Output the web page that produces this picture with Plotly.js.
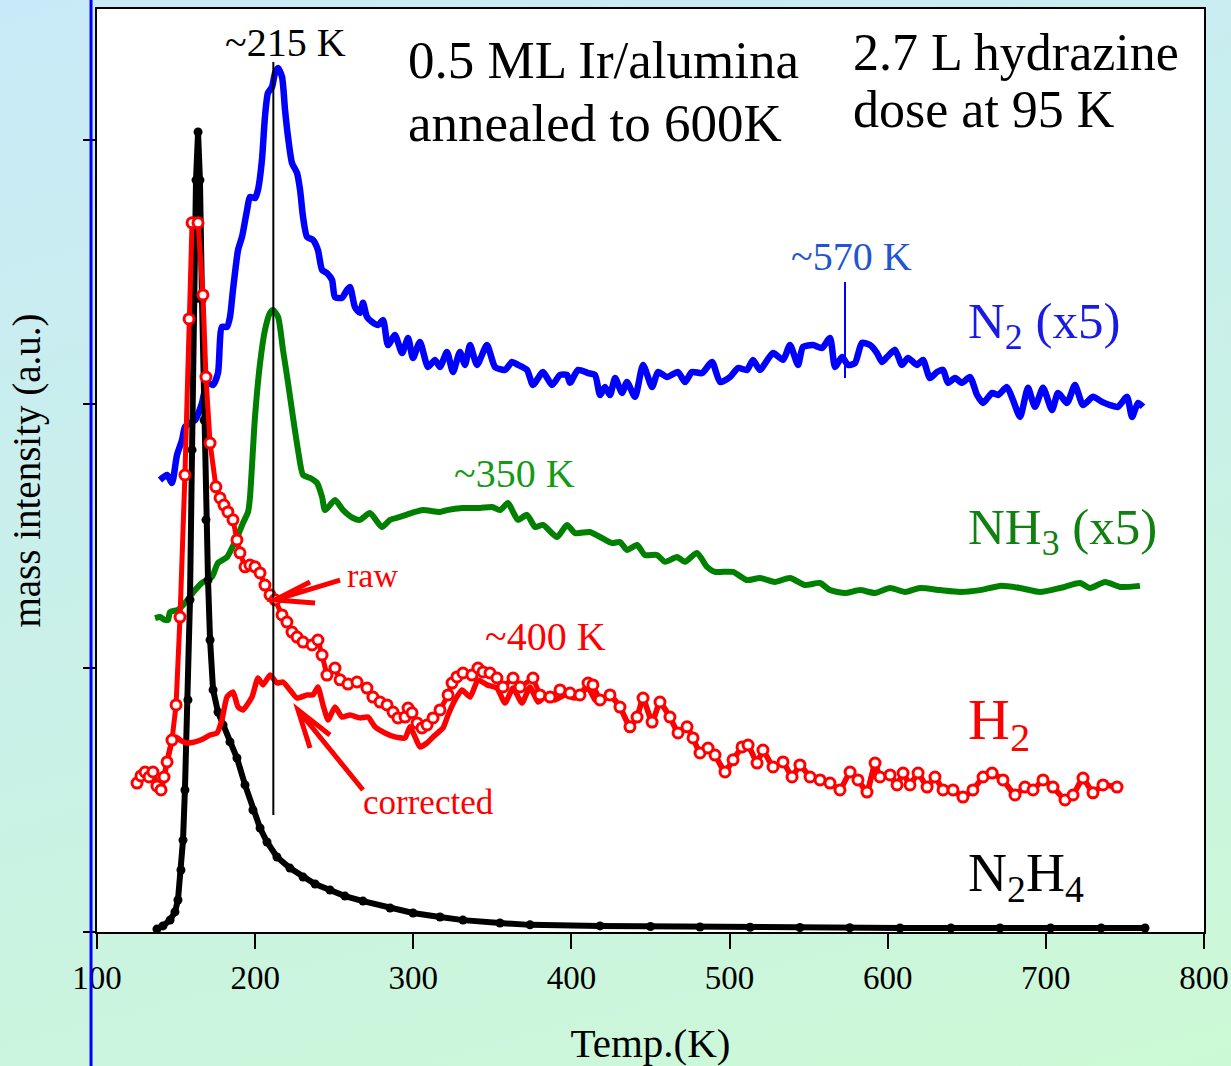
<!DOCTYPE html>
<html>
<head>
<meta charset="utf-8">
<script src="https://cdn.plot.ly/plotly-3.0.1.min.js"></script>
<style>
  html, body { margin: 0; padding: 0; }
  body {
    width: 1231px; height: 1066px; overflow: hidden;
    background: linear-gradient(165deg, #c8eaf8 0%, #caf1e6 55%, #ccf9d5 100%);
  }
  #chart { width: 1231px; height: 1066px; }
</style>
</head>
<body>
<div id="chart"></div>
<script>
// Hydrazine TPD on 0.5 ML Ir/alumina: mass-spectrometer signals vs temperature (K)

// N2H4 (parent), arbitrary units
const n2h4Temp = [137.9,141.7,146.2,149.3,151.2,153.1,154.4,155.6,157.5,158.8,160.1,161.3,162.6,163.9,165.1,166.4,167.7,168.9,170.2,171.5,173.4,176.5,179.7,184.1,188.5,193.6,198.6,203.1,207.5,213.8,222.0,230.3,237.9,247.3,256.8,268.2,285.3,299.8,316.9,331.4,354.8,373.8,418.1,450.0,481.3,513.0,544.5,576.0,607.8,640.0,671.0,703.0,735.0,762.7];
const n2h4Signal = [0.011,0.023,0.045,0.076,0.121,0.235,0.348,0.538,0.879,1.258,1.826,2.394,2.848,3.030,2.848,2.394,1.939,1.561,1.333,1.106,0.917,0.833,0.784,0.720,0.659,0.557,0.462,0.394,0.341,0.284,0.242,0.208,0.182,0.159,0.136,0.117,0.091,0.072,0.057,0.045,0.034,0.027,0.023,0.021,0.019,0.018,0.017,0.016,0.015,0.015,0.015,0.015,0.015,0.015];

// N2 (x5)
const n2Temp = [139.8,144.3,147.4,150.6,153.8,155.6,158.8,162.0,166.4,169.6,173.4,176.5,179.0,182.2,184.1,186.0,189.2,191.7,194.9,196.7,199.9,201.8,204.3,206.2,208.1,210.7,212.6,214.5,217.0,218.9,220.8,223.3,226.5,228.4,230.3,232.8,236.6,239.7,242.3,245.4,248.6,250.5,254.9,258.1,260.0,263.1,266.3,268.2,270.7,273.9,277.7,280.9,284.0,288.4,292.9,296.7,299.8,304.2,309.3,313.7,316.9,321.3,325.1,329.5,332.7,335.9,340.3,346.6,351.7,358.0,362.4,366.2,371.9,375.7,382.0,387.7,392.8,397.2,399.1,404.2,410.5,414.9,418.1,421.2,424.4,427.6,432.0,435.1,440.2,445.3,451.0,454.7,460.4,467.4,471.8,476.2,482.6,488.9,494.0,500.3,505.3,511.0,514.8,519.2,527.5,533.8,538.2,543.3,546.4,552.8,558.5,563.5,566.7,571.1,574.9,579.3,583.7,588.8,593.2,596.4,599.6,604.6,609.0,612.8,618.5,622.3,626.7,631.2,635.0,638.1,642.6,647.0,652.0,656.5,660.3,666.0,669.8,675.4,679.2,683.7,688.7,693.1,698.2,703.9,707.7,713.4,718.4,723.5,729.8,735.5,740.6,745.6,751.3,754.5,758.3,761.4];
const n2Signal = [1.712,1.731,1.701,1.807,1.864,1.913,1.928,1.939,2.004,2.080,2.072,2.117,2.292,2.292,2.330,2.432,2.583,2.633,2.735,2.784,2.780,2.811,2.924,3.087,3.178,3.201,3.254,3.273,3.239,3.114,3.011,2.913,2.875,2.811,2.708,2.633,2.621,2.583,2.508,2.496,2.470,2.405,2.402,2.432,2.443,2.367,2.345,2.383,2.330,2.311,2.299,2.318,2.223,2.261,2.193,2.250,2.174,2.235,2.140,2.167,2.140,2.197,2.121,2.197,2.148,2.223,2.148,2.223,2.140,2.129,2.159,2.148,2.129,2.072,2.121,2.072,2.110,2.110,2.080,2.129,2.117,2.110,2.034,2.064,2.034,2.098,2.042,2.083,2.027,2.148,2.064,2.121,2.102,2.121,2.083,2.121,2.117,2.159,2.083,2.102,2.136,2.129,2.167,2.129,2.193,2.167,2.223,2.148,2.216,2.223,2.212,2.250,2.140,2.178,2.148,2.155,2.231,2.223,2.193,2.159,2.178,2.205,2.148,2.174,2.148,2.167,2.098,2.121,2.129,2.080,2.098,2.080,2.102,2.034,2.004,2.042,2.034,2.064,2.015,1.951,2.061,1.989,2.061,1.977,2.042,2.004,2.072,1.996,2.027,2.008,1.996,1.989,2.027,1.951,2.004,1.989];

// NH3 (x5)
const nh3Temp = [136.7,139.8,143.0,144.9,146.2,151.2,155.6,162.0,166.4,172.7,176.5,182.2,185.4,189.2,192.3,195.5,196.7,199.9,203.1,206.2,209.4,211.3,214.5,217.6,220.8,223.9,227.1,230.3,234.7,239.1,242.3,244.2,250.5,255.6,261.9,266.3,272.6,280.2,285.3,291.6,301.1,306.1,316.9,321.3,331.4,342.2,349.8,354.8,359.9,363.1,366.2,371.9,377.0,382.0,390.9,397.2,402.3,411.7,418.1,425.7,430.7,435.1,441.5,446.5,454.1,459.2,466.8,471.8,479.4,485.7,490.8,502.2,511.0,519.2,528.7,538.2,547.7,557.2,563.5,573.0,582.5,592.0,601.5,611.0,620.4,633.1,645.7,658.4,671.0,683.7,696.3,709.0,721.6,727.9,737.4,746.9,759.5];
const nh3Signal = [1.189,1.193,1.182,1.182,1.212,1.220,1.246,1.295,1.322,1.345,1.398,1.420,1.455,1.504,1.549,1.591,1.644,1.951,2.155,2.280,2.345,2.356,2.330,2.205,2.080,1.951,1.826,1.731,1.720,1.701,1.648,1.598,1.636,1.598,1.568,1.561,1.587,1.534,1.561,1.572,1.591,1.598,1.591,1.598,1.606,1.606,1.610,1.598,1.625,1.591,1.561,1.580,1.534,1.542,1.496,1.542,1.511,1.515,1.496,1.473,1.477,1.447,1.466,1.428,1.428,1.402,1.420,1.402,1.436,1.383,1.364,1.364,1.333,1.341,1.326,1.341,1.314,1.322,1.295,1.284,1.295,1.284,1.303,1.288,1.303,1.295,1.288,1.295,1.311,1.303,1.288,1.303,1.322,1.303,1.326,1.307,1.311];

// H2 raw signal up to ~420 K
const h2RawTemp = [125.3,127.8,130.4,132.9,135.4,137.9,140.5,142.4,144.3,147.4,150.0,152.5,155.6,158.2,160.1,163.9,167.0,168.9,171.5,175.2,177.8,180.3,182.8,186.0,188.5,190.4,193.6,196.7,199.9,203.1,206.2,209.4,212.6,217.0,220.1,223.3,226.5,230.3,236.0,239.7,242.3,245.4,250.5,253.7,258.7,264.4,270.7,274.5,279.0,283.4,287.2,290.3,294.8,296.7,299.2,302.4,305.5,308.7,312.5,316.9,322.0,324.5,327.6,331.4,337.1,340.9,344.1,348.5,352.9,356.7,363.1,367.5,375.7,380.1,386.5,392.8,399.1,405.4,410.5,413.6,418.1];
const h2RawSignal = [0.564,0.591,0.606,0.587,0.606,0.553,0.538,0.587,0.644,0.727,0.860,1.193,1.731,2.322,2.686,2.686,2.413,2.102,1.852,1.686,1.644,1.617,1.591,1.561,1.485,1.436,1.383,1.390,1.383,1.360,1.314,1.277,1.258,1.201,1.174,1.136,1.117,1.098,1.087,1.106,1.049,0.973,1.000,0.955,0.939,0.947,0.924,0.890,0.871,0.860,0.833,0.811,0.814,0.848,0.830,0.792,0.773,0.784,0.811,0.841,0.898,0.943,0.966,0.981,0.973,1.000,0.985,0.981,0.962,0.928,0.962,0.928,0.962,0.898,0.890,0.917,0.905,0.898,0.943,0.936,0.879];

// H2 corrected (fragmentation of N2H4 / NH3 removed) up to ~420 K
const h2CorrTemp = [125.3,127.8,130.4,132.9,135.4,137.9,140.5,142.4,144.3,146.8,150.0,152.5,156.9,162.0,167.0,171.5,175.9,179.0,182.2,186.0,189.2,192.3,198.0,201.8,205.0,209.4,213.8,217.6,222.0,226.5,232.8,236.6,239.7,242.9,246.1,250.5,254.9,260.0,266.3,271.4,275.8,282.1,288.4,294.8,297.9,301.1,304.2,308.7,312.5,318.8,322.0,326.4,330.8,335.9,340.9,346.6,352.9,358.0,363.1,368.7,373.8,378.9,383.3,389.6,395.9,402.3,410.5,414.9,418.1];
const h2CorrSignal = [0.564,0.591,0.606,0.587,0.606,0.553,0.538,0.587,0.644,0.708,0.739,0.727,0.716,0.720,0.731,0.746,0.754,0.803,0.890,0.909,0.852,0.841,0.890,0.962,0.936,0.973,0.943,0.947,0.917,0.886,0.898,0.898,0.928,0.860,0.803,0.852,0.814,0.822,0.811,0.814,0.777,0.754,0.739,0.735,0.777,0.739,0.701,0.716,0.739,0.773,0.822,0.879,0.917,0.890,0.955,0.936,0.924,0.867,0.924,0.867,0.928,0.871,0.890,0.879,0.898,0.886,0.924,0.879,0.867];

// H2 above ~420 K, where raw and corrected coincide
const h2TailTemp = [424.4,430.7,437.0,441.5,445.3,451.0,456.0,462.3,467.4,473.1,476.9,481.3,486.4,490.8,497.1,502.2,507.9,511.7,517.4,521.1,527.5,533.8,539.5,544.5,550.9,557.2,563.5,569.8,576.2,581.2,586.9,592.0,595.1,601.5,605.9,609.7,614.1,619.2,624.9,629.9,635.0,641.3,647.6,653.9,660.3,666.0,672.9,680.5,686.8,691.9,698.2,704.5,712.1,717.2,723.5,729.8,736.1,745.0];
const h2TailSignal = [0.898,0.852,0.777,0.814,0.886,0.795,0.871,0.814,0.754,0.777,0.735,0.678,0.697,0.670,0.606,0.652,0.701,0.708,0.640,0.689,0.625,0.644,0.587,0.633,0.587,0.576,0.564,0.538,0.606,0.576,0.530,0.640,0.587,0.595,0.557,0.602,0.557,0.602,0.549,0.587,0.538,0.538,0.511,0.538,0.587,0.602,0.576,0.519,0.549,0.538,0.576,0.549,0.500,0.519,0.583,0.527,0.557,0.549];

const xTicks = [100, 200, 300, 400, 500, 600, 700, 800];
const yTicks = [0, 1, 2, 3];

const SERIF = '"Liberation Serif", "Times New Roman", serif';
const BLUE = '#0000ff', GREEN = '#008000', RED = '#ff0000', BLACK = '#000000';

const traces = [
  { x: n2Temp, y: n2Signal, mode: 'lines',
    line: { color: BLUE, width: 6.5, shape: 'spline', smoothing: 0.6 } },
  { x: nh3Temp, y: nh3Signal, mode: 'lines',
    line: { color: GREEN, width: 6, shape: 'spline', smoothing: 0.6 } },
  { x: n2h4Temp, y: n2h4Signal, mode: 'lines+markers',
    line: { color: BLACK, width: 6 }, marker: { color: BLACK, size: 9 } },
  { x: h2CorrTemp.concat(h2TailTemp), y: h2CorrSignal.concat(h2TailSignal), mode: 'lines',
    line: { color: RED, width: 5.5, shape: 'spline', smoothing: 0.5 } },
  { x: h2RawTemp.concat(h2TailTemp), y: h2RawSignal.concat(h2TailSignal), mode: 'lines+markers',
    line: { color: RED, width: 5 },
    marker: { symbol: 'circle', size: 10, color: '#ffffff', line: { color: RED, width: 3 } } }
];

function label(text, x, y, size, color, anchor) {
  return { text: text, x: x, y: y, xref: 'x', yref: 'y', showarrow: false,
           xanchor: anchor || 'left', yanchor: 'middle',
           font: { family: SERIF, size: size, color: color } };
}

const annotations = [
  label('~215 K', 218.9, 3.371, 40, BLACK, 'center'),
  label('0.5 ML Ir/alumina', 295.5, 3.303, 53, BLACK),
  label('annealed to 600K', 295.5, 3.064, 53, BLACK),
  label('2.7 L hydrazine', 577.0, 3.333, 52, BLACK),
  label('dose at 95 K', 577.0, 3.114, 52, BLACK),
  label('~570 K', 576.8, 2.557, 40, '#1f55d0', 'center'),
  label('N<sub>2</sub> (x5)', 649.5, 2.30, 51, '#1a1ae6'),
  label('~350 K', 364.3, 1.735, 40, '#159a15', 'center'),
  label('NH<sub>3</sub> (x5)', 649.5, 1.52, 51, '#108010'),
  label('raw', 256.8, 1.352, 34, RED),
  label('~400 K', 383.3, 1.121, 40, RED, 'center'),
  label('H<sub>2</sub>', 649.5, 0.79, 58, RED),
  label('corrected', 266.9, 0.489, 35, RED),
  label('N<sub>2</sub>H<sub>4</sub>', 649.5, 0.21, 54, BLACK)
];

const shapes = [
  // peak marker at ~215 K
  { type: 'line', xref: 'x', yref: 'y', x0: 211.5, x1: 211.5, y0: 0.443, y1: 3.295,
    line: { color: BLACK, width: 2 } },
  // N2 high-temperature feature at ~570 K
  { type: 'line', xref: 'x', yref: 'y', x0: 573.0, x1: 573.0, y0: 2.098, y1: 2.462,
    line: { color: BLUE, width: 2 } },
  // arrow pointing at the raw H2 trace
  { type: 'path', xref: 'x', yref: 'y',
    path: 'M 253.7 1.333 L 212.6 1.258 M 234.7 1.326 L 212.6 1.258 L 237.9 1.246',
    line: { color: RED, width: 5 } },
  // arrow pointing at the corrected H2 trace
  { type: 'path', xref: 'x', yref: 'y',
    path: 'M 268.2 0.538 L 227.1 0.841 M 247.3 0.746 L 227.1 0.841 L 234.7 0.697',
    line: { color: RED, width: 5 } },
  // blue rule at the left edge of the figure
  { type: 'line', xref: 'paper', yref: 'paper', x0: -0.0054, x1: -0.0054, y0: -0.2, y1: 1.05,
    line: { color: BLUE, width: 3 } }
];

const layout = {
  width: 1231, height: 1066,
  margin: { l: 97, r: 27, t: 9, b: 134 },
  paper_bgcolor: 'rgba(0,0,0,0)',
  plot_bgcolor: '#ffffff',
  showlegend: false,
  font: { family: SERIF, color: BLACK },
  xaxis: {
    range: [100, 800], tickvals: xTicks, ticktext: xTicks.map(String),
    ticks: 'outside', ticklen: 15, tickwidth: 2, tickcolor: BLACK,
    showline: true, linewidth: 2, linecolor: BLACK, mirror: true,
    showgrid: false, zeroline: false,
    tickfont: { family: SERIF, size: 33, color: BLACK },
    title: { text: 'Temp.(K)', font: { family: SERIF, size: 41, color: BLACK }, standoff: 36 }
  },
  yaxis: {
    range: [0, 3.496], tickvals: yTicks, showticklabels: false,
    ticks: 'outside', ticklen: 12, tickwidth: 2, tickcolor: BLACK,
    showline: true, linewidth: 2, linecolor: BLACK, mirror: true,
    showgrid: false, zeroline: false,
    title: { text: 'mass intensity (a.u.)', font: { family: SERIF, size: 39, color: BLACK }, standoff: 30 }
  },
  annotations: annotations,
  shapes: shapes
};

Plotly.newPlot('chart', traces, layout, { displayModeBar: false, staticPlot: true });
</script>
</body>
</html>
